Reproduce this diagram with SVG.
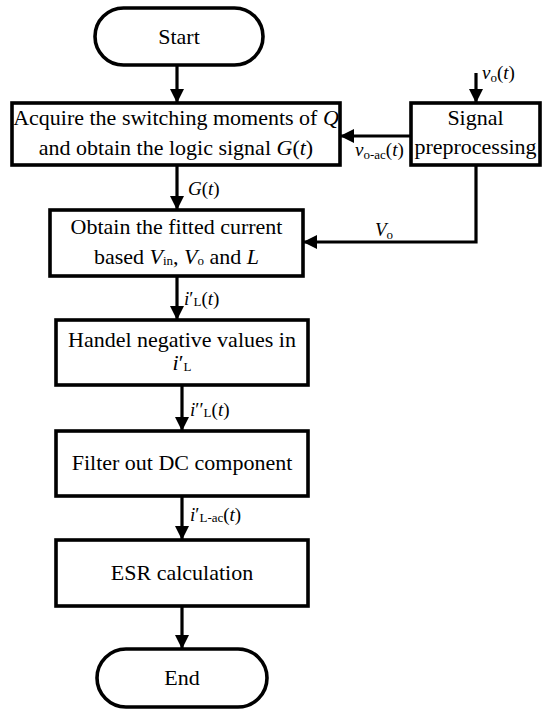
<svg xmlns="http://www.w3.org/2000/svg" width="550" height="717" viewBox="0 0 550 717">
<style>
.box{fill:#fff;stroke:#000;stroke-width:3.6}
.ln{fill:none;stroke:#000;stroke-width:3.2}
.t{font-family:'Liberation Serif','DejaVu Serif',serif;font-size:22px;fill:#000}
.c{text-anchor:middle}
.lb{font-size:19px}
.i{font-style:italic}
.s{font-size:13px}
</style>
<defs>
<marker id="ah" markerWidth="14" markerHeight="14" viewBox="0 0 14 14" refX="13" refY="7" orient="auto" markerUnits="userSpaceOnUse">
<path d="M0,0 L14,7 L0,14 Z" fill="#000"/>
</marker>
</defs>
<g id="connectors">
<line class="ln" x1="177" y1="65" x2="177" y2="102" marker-end="url(#ah)"/>
<line class="ln" x1="476" y1="73" x2="476" y2="102" marker-end="url(#ah)"/>
<line class="ln" x1="411" y1="136" x2="341" y2="136" marker-end="url(#ah)"/>
<line class="ln" x1="177" y1="165" x2="177" y2="209" marker-end="url(#ah)"/>
<polyline class="ln" points="476,165 476,242 304,242" marker-end="url(#ah)"/>
<line class="ln" x1="177" y1="276" x2="177" y2="319" marker-end="url(#ah)"/>
<line class="ln" x1="182" y1="385" x2="182" y2="430" marker-end="url(#ah)"/>
<line class="ln" x1="182" y1="496" x2="182" y2="539" marker-end="url(#ah)"/>
<line class="ln" x1="182" y1="606" x2="182" y2="648" marker-end="url(#ah)"/>
<text class="t lb" x="482" y="79"><tspan class="i">v</tspan><tspan class="s" dy="3">o</tspan><tspan dy="-3">(</tspan><tspan class="i">t</tspan>)</text>
<text class="t lb" x="355" y="156"><tspan class="i">v</tspan><tspan class="s" dy="3">o-ac</tspan><tspan dy="-3">(</tspan><tspan class="i">t</tspan>)</text>
<text class="t lb" x="188" y="195"><tspan class="i">G</tspan>(<tspan class="i">t</tspan>)</text>
<text class="t lb" x="375" y="236"><tspan class="i">V</tspan><tspan class="s" dy="3">o</tspan></text>
<text class="t lb" x="184" y="305"><tspan class="i">i</tspan>′<tspan class="s" dy="1">L</tspan><tspan dy="-1">(</tspan><tspan class="i">t</tspan>)</text>
<text class="t lb" x="190" y="416"><tspan class="i">i</tspan>′′<tspan class="s" dy="1">L</tspan><tspan dy="-1">(</tspan><tspan class="i">t</tspan>)</text>
<text class="t lb" x="190" y="521"><tspan class="i">i</tspan>′<tspan class="s" dy="1">L-ac</tspan><tspan dy="-1">(</tspan><tspan class="i">t</tspan>)</text>
</g>
<g id="start">
<rect class="box" x="95" y="8" width="168" height="57" rx="28.5"/>
<text class="t c" x="179" y="44">Start</text>
</g>
<g id="acquire">
<rect class="box" x="12" y="103" width="328" height="62"/>
<text class="t c" x="176" y="125">Acquire the switching moments of <tspan class="i">Q</tspan></text>
<text class="t c" x="176" y="155">and obtain the logic signal <tspan class="i">G</tspan>(<tspan class="i">t</tspan>)</text>
</g>
<g id="preprocess">
<rect class="box" x="411" y="103" width="129" height="62"/>
<text class="t c" x="475.5" y="125">Signal</text>
<text class="t c" x="475.5" y="154">preprocessing</text>
</g>
<g id="fitted">
<rect class="box" x="50" y="210" width="253" height="66"/>
<text class="t c" x="176.5" y="234">Obtain the fitted current</text>
<text class="t c" x="176.5" y="264">based <tspan class="i">V</tspan><tspan class="s" dy="1">in</tspan><tspan dy="-1">, </tspan><tspan class="i">V</tspan><tspan class="s" dy="1">o</tspan><tspan dy="-1"> and </tspan><tspan class="i">L</tspan></text>
</g>
<g id="negative">
<rect class="box" x="56" y="320" width="252" height="65"/>
<text class="t c" x="182" y="347">Handel negative values in</text>
<text class="t c" x="182" y="370"><tspan class="i">i</tspan>′<tspan class="s" dy="1">L</tspan></text>
</g>
<g id="filter">
<rect class="box" x="56" y="431" width="252" height="65"/>
<text class="t c" x="182" y="470">Filter out DC component</text>
</g>
<g id="esr">
<rect class="box" x="56" y="540" width="252" height="66"/>
<text class="t c" x="182" y="580">ESR calculation</text>
</g>
<g id="end">
<rect class="box" x="97" y="649" width="170" height="58" rx="29"/>
<text class="t c" x="182" y="685">End</text>
</g>
</svg>
